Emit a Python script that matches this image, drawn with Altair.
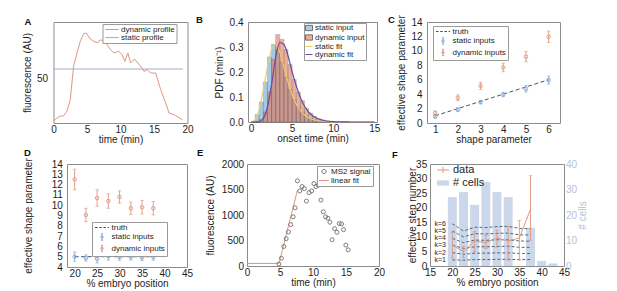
import altair as alt
import pandas as pd

FONT = "Liberation Sans"
INK = "#1e1e1e"
BOX = "#8c8c8c"
SAL = "#e0957f"
BLU = "#84a8d6"
TRU = "#4b5364"
LB = "#cbd7ea"
LBAX = "#b3c3dc"
GRY = "#707070"
YEL = "#e6cd70"
PUR = "#6a4a9c"
LFS = 10
TFS = 10
LEG = 8

# ---------------- data ----------------
# A
a_time = [0, 0.5, 1, 1.5, 2, 2.5, 3, 3.5, 4, 4.5, 4.9, 5.5, 6, 6.6, 7, 7.5, 8, 8.5, 9, 9.75,
          10.25, 10.65, 11.1, 11.5, 12.1, 12.6, 13, 13.5, 14, 14.5, 15.25, 16, 16.75, 17.25, 18, 19.25]
a_dynamic = [17.3, 19.9, 21.2, 21.6, 25.0, 34.0, 59.8, 70.1, 79.1, 85.0, 85.5, 80.9, 79.1, 77.8, 80.3, 79.1,
             76.5, 72.6, 70.1, 71.4, 68.7, 63.6, 70.1, 62.3, 65.4, 62.3, 59.8, 55.9, 57.2, 54.6, 54.6, 41.7,
             31.4, 23.7, 22.4, 18.5]
a_static_time = [0, 19.3]
a_static = [57.7, 57.7]

# B
b_edges = [0.0, 0.5, 1.0, 1.5, 2.0, 2.5, 3.0, 3.5, 4.0, 4.5, 5.0, 5.5, 6.0, 6.5, 7.0, 7.5, 8.0, 8.5, 9.0, 9.5, 10.0]
b_static = [0.0, 0.03, 0.08, 0.16, 0.26, 0.31, 0.29, 0.24, 0.18, 0.13, 0.09, 0.06, 0.04, 0.025, 0.015, 0.009,
            0.005, 0.003, 0.001, 0.0]
b_dynamic = [0.0, 0.0, 0.01, 0.04, 0.12, 0.25, 0.35, 0.33, 0.29, 0.23, 0.17, 0.12, 0.085, 0.055, 0.035, 0.022,
             0.013, 0.008, 0.005, 0.003]
b_fit_x = [0, 0.5, 1, 1.5, 2, 2.5, 3, 3.5, 4, 4.5, 5, 5.5, 6, 6.5, 7, 7.5, 8, 9, 10, 11, 12, 13, 14, 15]
b_static_fit = [0, 0.008, 0.05, 0.13, 0.22, 0.29, 0.31, 0.28, 0.22, 0.16, 0.11, 0.072, 0.046, 0.028, 0.017,
                0.01, 0.006, 0.002, 0.0007, 0.0002, 0.0001, 0, 0, 0]
b_dynamic_fit = [0, 0, 0.002, 0.015, 0.06, 0.15, 0.26, 0.318, 0.31, 0.265, 0.2, 0.145, 0.098, 0.064, 0.04,
                 0.025, 0.015, 0.005, 0.0017, 0.0005, 0.0001, 0, 0, 0]

# C
c_shape = [1, 2, 3, 4, 5, 6]
c_static = [0.9, 1.85, 2.9, 3.95, 4.75, 5.95]
c_static_err = [0.2, 0.25, 0.25, 0.3, 0.45, 0.55]
c_dynamic = [1.4, 3.5, 5.15, 7.7, 9.2, 11.95]
c_dynamic_err = [0.25, 0.4, 0.5, 0.6, 0.7, 0.8]

# D
d_pos = [20, 22.5, 25, 27.5, 30, 32.5, 35, 37.5]
d_static = [5.0, 4.88, 4.8, 5.05, 4.97, 5.0, 4.93, 4.98]
d_static_err = [0.45, 0.3, 0.4, 0.38, 0.32, 0.33, 0.3, 0.32]
d_dynamic = [12.5, 9.05, 10.7, 10.4, 10.8, 9.7, 9.8, 9.7]
d_dynamic_err = [1.0, 0.65, 0.8, 0.7, 0.6, 0.6, 0.65, 0.65]
d_truth_pos = [20, 37.5]
d_truth = [5, 5]

# E
e_time = [4.83, 5.22, 5.58, 5.93, 6.28, 6.63, 6.98, 7.29, 7.64, 7.99, 8.34, 8.69, 9.0, 9.4, 9.8, 10.15,
          10.45, 10.8, 11.2, 11.56, 11.9, 12.26, 12.56, 12.9, 13.27, 13.62, 13.97, 14.33, 14.63, 14.98, 15.33]
e_signal = [40, 152, 382, 535, 667, 812, 964, 1142, 1670, 1472, 1558, 1518, 1273, 1439, 1472, 1617, 1558,
            1584, 1293, 1063, 964, 937, 858, 515, 733, 660, 832, 825, 713, 410, 317]
e_fit_time = [0, 4.85, 7.65]
e_fit = [50, 50, 1490]

# F
f_pos = [20, 22.5, 25, 27.5, 30, 32.5, 35, 37.5]
f_data = [7.2, 4.9, 8.6, 8.0, 9.6, 8.6, 9.6, 19.5]
f_lo = [2.8, 2.9, 5.0, 6.0, 6.5, 2.0, 2.0, 8.8]
f_hi = [11.6, 6.8, 11.8, 10.6, 12.2, 13.5, 15.6, 31.0]
f_bar_pos = [20, 22.5, 25, 27.5, 30, 32.5, 37.5, 40, 42.5]
f_cells = [27, 29, 24, 33, 29, 27, 15, 2, 1]
f_k = [1, 2, 3, 4, 5, 6]
f_k_curves = [
    [2.1, 2.0, 2.2, 2.2, 2.3, 2.3, 2.2, 2.2],
    [4.6, 4.0, 4.4, 4.4, 4.5, 4.5, 4.3, 4.3],
    [7.2, 6.0, 6.6, 6.6, 6.7, 6.8, 6.4, 6.4],
    [9.5, 8.0, 8.9, 8.8, 9.0, 9.0, 8.6, 8.5],
    [12.0, 10.0, 11.1, 11.0, 11.2, 11.3, 10.7, 10.6],
    [14.5, 12.0, 13.3, 13.2, 13.5, 13.6, 12.9, 12.8],
]
f_k_label_x = 16
f_k_label_y = [2.1, 4.6, 7.2, 9.5, 12.0, 14.5]


# ---------------- helpers ----------------
def q(s):
    return "'" + s + "'"


def tern(mapping, default):
    expr = default
    for k, v in reversed(list(mapping.items())):
        expr = "(datum.value === '%s' ? %s : %s)" % (k, v, expr)
    return {"expr": expr}


def colour(dom, rng):
    # domain listed in reverse so the (hidden) colour legend is never merged with the shape legend
    return alt.Color("s:N", scale=alt.Scale(domain=dom[::-1], range=rng[::-1]), legend=None)


def xaxis(title, values, fmt=None):
    kw = dict(title=title, values=values, ticks=False, domain=False, grid=False, labelPadding=1,
              minExtent=11, maxExtent=11, titlePadding=0, labelFont=FONT, titleFont=FONT,
              labelFontSize=LFS, titleFontSize=TFS, labelColor=INK, titleColor=INK,
              titleFontWeight="normal", labelFlush=False, labelOverlap=False)
    if fmt:
        kw["format"] = fmt
    return alt.Axis(**kw)


def yaxis(title, values, lp, near, ext=20, fmt=None, orient="left", color=INK):
    kw = dict(title=title, values=values, orient=orient, ticks=False, domain=False, grid=False,
              labelPadding=lp, minExtent=ext, maxExtent=ext, titlePadding=near - ext,
              labelFont=FONT, titleFont=FONT, labelFontSize=LFS, titleFontSize=TFS,
              labelColor=color, titleColor=color, titleFontWeight="normal", labelOverlap=False)
    if fmt:
        kw["format"] = fmt
    if orient == "right":
        kw.update(titleAngle=270, titleBaseline="top")
    return alt.Axis(**kw)


def letter(ch, dx, dy):
    return alt.Chart(pd.DataFrame({"t": [ch]})).mark_text(
        align="left", baseline="middle", font=FONT, fontSize=9.5, fontWeight="bold", color="#111"
    ).encode(text="t:N", x=alt.value(dx), y=alt.value(dy))


def sc(lo, hi):
    return alt.Scale(domain=[lo, hi], nice=False, zero=False)


def spacer(w):
    return alt.Chart(pd.DataFrame({"v": [0]})).mark_point(opacity=0, size=0).encode(
        x=alt.value(0), y=alt.value(0)).properties(width=w, height=1,
                                                   view=alt.ViewBackground(stroke="transparent"))


def legend_layer(X, Y, color, dom, paths, fills, strokes, pos, anchor, dashes=None, fs=LEG, box=True,
                 rowpad=0, symoff=0, laboff=2, pad=1.5, xf="x", yf="y"):
    """Zero-size points that only carry the legend (shape scale gives one symbol per entry)."""
    df = pd.DataFrame({xf: [anchor[0]] * len(dom), yf: [anchor[1]] * len(dom), "s": dom})
    kw = dict(orient="none", legendX=pos[0], legendY=pos[1], title=None, labelFont=FONT, labelFontSize=fs,
              labelColor=INK, symbolSize=49, rowPadding=rowpad, symbolOffset=symoff, labelOffset=laboff,
              padding=pad, labelLimit=300, symbolOpacity=1, symbolStrokeWidth=1,
              symbolFillColor=tern(dict(zip(dom, [q(c) for c in fills])), q("transparent")),
              symbolStrokeColor=tern(dict(zip(dom, [q(c) for c in strokes])), q("transparent")))
    if dashes is not None:
        kw["symbolDash"] = tern(dict(zip(dom, dashes)), "[]")
    if box:
        kw.update(strokeColor="#9a9a9a", fillColor="white")
    return alt.Chart(df).mark_point(filled=True, opacity=1, strokeWidth=1, size=0).encode(
        x=X, y=Y, color=color,
        shape=alt.Shape("s:N", scale=alt.Scale(domain=dom, range=paths), legend=alt.Legend(**kw)))


EBAR = "M0,-0.9L0,0.9M-0.3,-0.9L0.3,-0.9M-0.3,0.9L0.3,0.9M0.35,0A0.35,0.35,0,1,1,-0.35,0A0.35,0.35,0,1,1,0.35,0"

# ---------------- Panel A ----------------
a_df = pd.DataFrame({
    "t": a_time + a_static_time,
    "v": a_dynamic + a_static,
    "s": ["dynamic profile"] * len(a_time) + ["static profile"] * len(a_static_time),
})
a_dom = ["dynamic profile", "static profile"]
a_col = colour(a_dom, [SAL, "#9db0cc"])
AX_ = alt.X("t:Q", scale=sc(0, 20), axis=xaxis("time (min)", [0, 5, 10, 15, 20]))
AY_ = alt.Y("v:Q", scale=sc(16, 94), axis=yaxis("fluorescence (AU)", [50], 6, 21.5))
A = alt.layer(
    alt.Chart(a_df).mark_line(strokeWidth=1).encode(x=AX_, y=AY_, color=a_col, detail="s:N"),
    legend_layer(AX_, AY_, a_col, a_dom, ["M-1.9,0L1.9,0", "M-1.9,0L1.9,0"], ["transparent"] * 2,
                 [SAL, "#9db0cc"], (49, 2), (a_time[0], a_dynamic[0]), symoff=4, laboff=5, xf="t", yf="v"),
    letter("A", -29, 0),
).properties(width=134, height=101)

# ---------------- Panel B ----------------
nb = len(b_static)
b_bars = pd.DataFrame({
    "x0": b_edges[:-1] * 2, "x1": b_edges[1:] * 2, "v": b_static + b_dynamic, "z": [0.0] * (2 * nb),
    "s": ["static input"] * nb + ["dynamic input"] * nb,
})
b_fits = pd.DataFrame({
    "x0": b_fit_x * 2, "v": b_static_fit + b_dynamic_fit,
    "s": ["static fit"] * len(b_fit_x) + ["dynamic fit"] * len(b_fit_x),
})
b_dom = ["static input", "dynamic input", "static fit", "dynamic fit"]
b_col = colour(b_dom, ["#62a4d7", "#e67350", YEL, PUR])
bxs = sc(-0.37, 15.33)
bxa = xaxis("onset time (min)", [0, 5, 10, 15])
bys = sc(0, 0.4)
bya = yaxis("PDF (min\u207b\u00b9)", [0, 0.1, 0.2, 0.3, 0.4], 5, 23.5)
bx = alt.X("x0:Q", scale=bxs, axis=bxa)
by = alt.Y("v:Q", scale=bys, axis=bya)
SQ = "M-1,-0.75L1,-0.75L1,0.75L-1,0.75Z"
LN = "M-1,0L1,0"
B = alt.layer(
    alt.Chart(b_bars).mark_bar(opacity=0.58, stroke="#5a5a5a", strokeWidth=0.5).encode(
        x=bx, x2="x1:Q", y=alt.Y("v:Q", scale=bys, axis=bya, stack=None), y2="z:Q", color=b_col),
    alt.Chart(b_fits).mark_line(strokeWidth=1.2, interpolate="monotone").encode(
        x=bx, y=by, color=b_col, detail="s:N"),
    legend_layer(bx, by, b_col, b_dom, [SQ, SQ, LN, LN], ["#a9cde9", "#f0ab96", "transparent", "transparent"],
                 ["#707070", "#707070", YEL, PUR], (56, 1), (1, 0.1), rowpad=-0.5, pad=1, xf="x0", yf="v"),
    letter("B", -52, -2.5),
).properties(width=129, height=100)


# ---------------- C & D (shape parameter panels) ----------------
def shape_panel(xs, static, serr, dyn, derr, truth_x, truth_y, xscale, yscale, xax, yax, leg, let, w, h):
    n = len(xs)
    pts = pd.DataFrame({
        "x": xs * 2, "y": static + dyn,
        "lo": [v - e for v, e in zip(static, serr)] + [v - e for v, e in zip(dyn, derr)],
        "hi": [v + e for v, e in zip(static, serr)] + [v + e for v, e in zip(dyn, derr)],
        "s": ["static inputs"] * n + ["dynamic inputs"] * n,
    })
    caps = pd.DataFrame({"x": list(pts["x"]) * 2, "y": list(pts["lo"]) + list(pts["hi"]), "s": list(pts["s"]) * 2})
    tr = pd.DataFrame({"x": truth_x, "y": truth_y, "s": ["truth"] * len(truth_x)})
    dom = ["truth", "static inputs", "dynamic inputs"]
    col = colour(dom, [TRU, BLU, SAL])
    X = alt.X("x:Q", scale=xscale, axis=xax)
    Y = alt.Y("y:Q", scale=yscale, axis=yax)
    return alt.layer(
        alt.Chart(tr).mark_line(strokeDash=[4, 2.5], strokeWidth=1).encode(x=X, y=Y, color=col),
        alt.Chart(pts).mark_rule(strokeWidth=0.9).encode(x=X, y=alt.Y("lo:Q", scale=yscale, axis=yax), y2="hi:Q", color=col),
        alt.Chart(caps).mark_tick(orient="horizontal", size=3.5, thickness=0.9).encode(x=X, y=Y, color=col),
        alt.Chart(pts).mark_point(shape="circle", filled=False, size=13, strokeWidth=0.9, opacity=1).encode(x=X, y=Y, color=col),
        legend_layer(X, Y, col, dom, ["M-2,0L2,0", EBAR, EBAR], ["transparent"] * 3, [TRU, BLU, SAL], leg,
                     (xs[0], static[0]), dashes=["[2.6,1.6]", "[]", "[]"], rowpad=-0.5, symoff=4.5, laboff=5.5),
        letter(*let),
    ).properties(width=w, height=h)


C = shape_panel(c_shape, c_static, c_static_err, c_dynamic, c_dynamic_err, [1, 6], [1, 6],
                sc(0.64, 6.5), sc(0, 14),
                xaxis("shape parameter", [1, 2, 3, 4, 5, 6]),
                yaxis("effective shape parameter", [0, 2, 4, 6, 8, 10, 12, 14], 5, 21),
                (6, 4), ("C", -39, -2), 133, 101)

D = shape_panel(d_pos, d_static, d_static_err, d_dynamic, d_dynamic_err, d_truth_pos, d_truth,
                sc(18.3, 45), sc(4, 14),
                xaxis("% embryo position", [20, 25, 30, 35, 40, 45]),
                yaxis("effective shape parameter", [4, 5, 6, 7, 8, 9, 10, 11, 12, 13, 14], 4.7, 33.5),
                (25, 58), ("D", -43, -11.5), 120, 103)

# ---------------- Panel E ----------------
e_pts = pd.DataFrame({"t": e_time, "v": e_signal, "s": ["MS2 signal"] * len(e_time)})
e_line = pd.DataFrame({"t": e_fit_time, "v": e_fit, "s": ["linear fit"] * len(e_fit_time)})
e_dom = ["MS2 signal", "linear fit"]
e_col = colour(e_dom, [GRY, SAL])
EX = alt.X("t:Q", scale=sc(0, 20), axis=xaxis("time (min)", [0, 5, 10, 15, 20]))
EY = alt.Y("v:Q", scale=sc(0, 2000), axis=yaxis("fluorescence (AU)", [0, 500, 1000, 1500, 2000], 3.4, 32,
                                                  ext=24, fmt="d"))
CIRC = "M0.6,0A0.6,0.6,0,1,1,-0.6,0A0.6,0.6,0,1,1,0.6,0"
E = alt.layer(
    alt.Chart(e_line).mark_line(strokeWidth=1).encode(x=EX, y=EY, color=e_col),
    alt.Chart(e_pts).mark_point(shape="circle", filled=False, size=16, strokeWidth=0.9, opacity=1).encode(x=EX, y=EY, color=e_col),
    legend_layer(EX, EY, e_col, e_dom, [CIRC, "M-1.4,0L1.4,0"], ["transparent"] * 2, [GRY, SAL], (70, 2),
                 (e_time[0], e_signal[0]), symoff=1.5, laboff=3, xf="t", yf="v"),
    letter("E", -50, -11),
).properties(width=132, height=102)

# ---------------- Panel F ----------------
f_bars = pd.DataFrame({"x0": [p - 1.0 for p in f_bar_pos], "x1": [p + 1.0 for p in f_bar_pos],
                       "c": f_cells, "z": [0] * len(f_bar_pos), "s": ["# cells"] * len(f_bar_pos)})
f_pts = pd.DataFrame({"x": f_pos, "y": f_data, "lo": f_lo, "hi": f_hi, "s": ["data"] * len(f_pos)})
f_caps = pd.DataFrame({"x": f_pos * 2, "y": f_lo + f_hi, "s": ["data"] * (2 * len(f_pos))})
f_klines = pd.DataFrame({
    "x": f_pos * len(f_k),
    "y": [v for curve in f_k_curves for v in curve],
    "k": [k for k in f_k for _ in f_pos],
})
f_klab = pd.DataFrame({"x": [f_k_label_x] * len(f_k), "y": f_k_label_y, "t": ["k=%d" % k for k in f_k]})
f_dom = ["data", "# cells"]
f_col = colour(f_dom, [SAL, LB])
fxs = sc(15, 45)
fxa = xaxis("% embryo position", [15, 20, 25, 30, 35, 40, 45])
FX = alt.X("x:Q", scale=fxs, axis=fxa)
fys = sc(0, 35)
fya = yaxis("effective step number", [0, 5, 10, 15, 20, 25, 30, 35], 3.3, 13, ext=11)
FY = alt.Y("y:Q", scale=fys, axis=fya)
F_left = alt.layer(
    alt.Chart(f_klines).mark_line(strokeDash=[3, 2], strokeWidth=0.9, color=TRU).encode(x=FX, y=FY, detail="k:N"),
    alt.Chart(f_klab).mark_text(align="left", baseline="middle", font=FONT, fontSize=7, color=INK).encode(x=FX, y=FY, text="t:N"),
    alt.Chart(f_pts).mark_rule(strokeWidth=0.9).encode(x=FX, y=alt.Y("lo:Q", scale=fys, axis=fya), y2="hi:Q", color=f_col),
    alt.Chart(f_caps).mark_tick(orient="horizontal", size=3.5, thickness=0.9).encode(x=FX, y=FY, color=f_col),
    alt.Chart(f_pts).mark_line(strokeWidth=1).encode(x=FX, y=FY, color=f_col),
    legend_layer(FX, FY, f_col, f_dom, ["M-1.7,0L1.7,0M0,-0.9L0,0.9", "M-1.7,-0.75L1.7,-0.75L1.7,0.75L-1.7,0.75Z"],
                 ["transparent", LB], [SAL, "transparent"], (3, -1), (f_pos[0], f_data[0]), fs=11, box=False,
                 rowpad=1, symoff=3, laboff=4.5),
    letter("F", -38, -9.5),
)
F_bars = alt.Chart(f_bars).mark_bar().encode(
    x=alt.X("x0:Q", scale=fxs, axis=fxa), x2="x1:Q",
    y=alt.Y("c:Q", scale=sc(0, 40), stack=None,
            axis=yaxis("# cells", [0, 10, 20, 30, 40], 1.5, 13, ext=11, orient="right", color=LBAX)),
    y2="z:Q",
    color=f_col,
)
F = alt.layer(F_bars, F_left).resolve_scale(y="independent").properties(width=134, height=102)

# ---------------- layout ----------------
IND = dict(color="independent", shape="independent")
row1 = alt.hconcat(spacer(7), A, alt.hconcat(B, C, spacing=6).resolve_scale(**IND),
                   spacing=0.5).resolve_scale(**IND)
row2 = alt.hconcat(spacer(7.5), D, alt.hconcat(E, F, spacing=5).resolve_scale(**IND),
                   spacing=2).resolve_scale(**IND)

chart = alt.vconcat(row1, row2, spacing=2).resolve_scale(**IND).properties(
    padding={"left": 4, "top": 6, "right": 2, "bottom": 2}
).configure(font=FONT).configure_view(stroke=BOX, strokeWidth=1)

chart.save("out.html", embed_options={"renderer": "svg", "actions": False})
